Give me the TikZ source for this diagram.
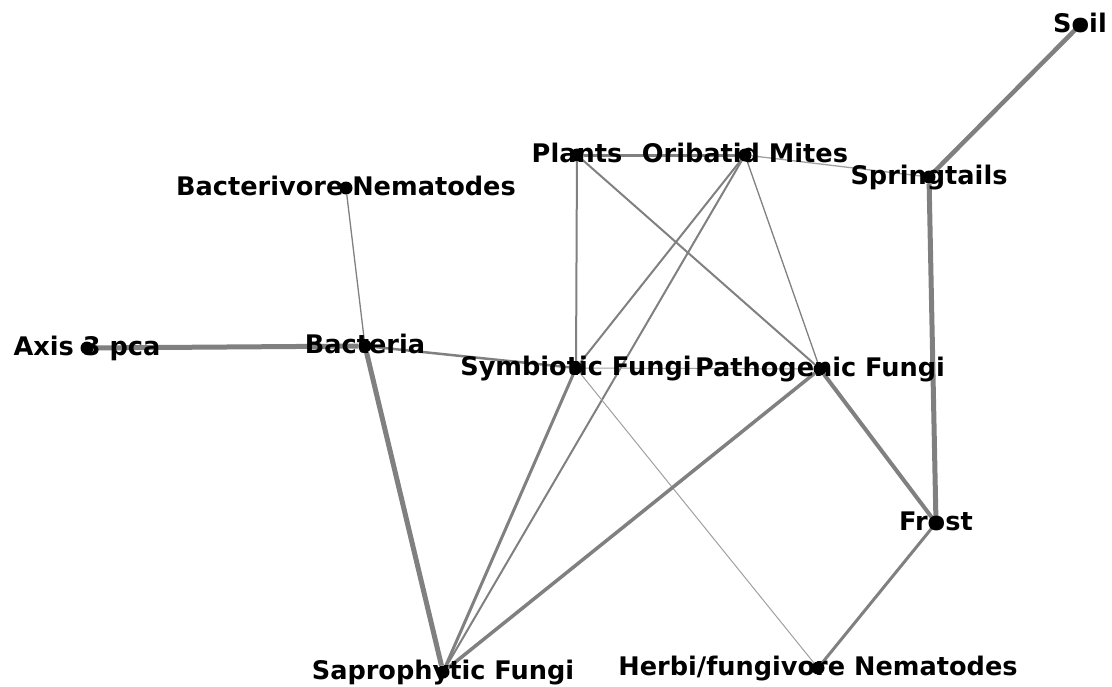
\documentclass[tikz,border=0pt]{standalone}
\usepackage{fontspec}
\setmainfont{DejaVu Sans}
\usepackage{tikz}
\usetikzlibrary{backgrounds}
\definecolor{edgegray}{RGB}{128,128,128}
\definecolor{lightgray}{RGB}{160,160,160}

\begin{document}
\begin{tikzpicture}[
    x=1pt, y=-1pt,
    dot/.style={circle, fill=black, inner sep=0pt, minimum size=13pt},
    lbl/.style={font=\bfseries\fontsize{25.6}{26}\selectfont, text height=0pt, text depth=0pt, yshift=-7pt, inner sep=0pt},
    link/.style={draw=edgegray, line width=#1},
    link/.default=2,
    faint/.style={draw=lightgray, line width=#1},
    faint/.default=1
]
\useasboundingbox (0,0) rectangle (1112,686);

% species and drivers
\node[dot, label={[lbl]center:Soil}] (soil) at (1080,25) {};
\node[dot, label={[lbl]center:Springtails}] (spring) at (929,177) {};
\node[dot, label={[lbl]center:Plants}] (plants) at (577,155) {};
\node[dot, label={[lbl]center:Oribatid Mites}] (mites) at (745,155) {};
\node[dot, label={[lbl]center:Bacterivore Nematodes}] (bactnem) at (346,188) {};
\node[dot, label={[lbl]center:Axis 3 pca}] (axis) at (87,348) {};
\node[dot, label={[lbl]center:Bacteria}] (bact) at (365,346) {};
\node[dot, label={[lbl]center:Symbiotic Fungi}] (symb) at (576,368) {};
\node[dot, label={[lbl]center:Pathogenic Fungi}] (path) at (820,369) {};
\node[dot, label={[lbl]center:Frost}] (frost) at (936,523) {};
\node[dot, label={[lbl]center:Saprophytic Fungi}] (sapro) at (443,672) {};
\node[dot, label={[lbl]center:Herbi/fungivore Nematodes}] (herbnem) at (818,668) {};

\begin{scope}[on background layer]
\draw[link=4.5] (soil) -- (spring);
\draw[link=5] (spring) -- (frost);
\draw[faint=1.3] (mites) -- (spring);
\draw[link=3] (plants) -- (mites);
\draw[link=2] (plants) -- (symb);
\draw[link=2] (plants) -- (path);
\draw[link=2] (mites) -- (symb);
\draw[link=2] (mites) -- (sapro);
\draw[link=1.3] (mites) -- (path);
\draw[link=1.3] (bactnem) -- (bact);
\draw[link=5] (axis) -- (bact);
\draw[link=2.5] (bact) -- (symb);
\draw[link=5] (bact) -- (sapro);
\draw[faint=1] (symb) -- (path);
\draw[link=3] (symb) -- (sapro);
\draw[faint=1] (symb) -- (herbnem);
\draw[link=3.5] (path) -- (sapro);
\draw[link=4] (path) -- (frost);
\draw[link=3] (frost) -- (herbnem);
\end{scope}
\end{tikzpicture}
\end{document}
